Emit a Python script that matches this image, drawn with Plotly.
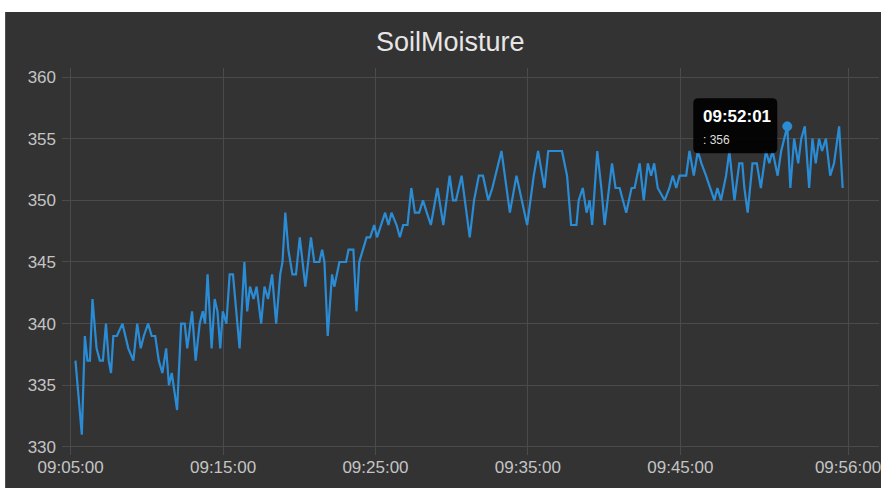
import plotly.graph_objects as go

DAY = "2024-01-01 "

times = [
    "09:05:19", "09:05:44", "09:05:56", "09:06:06", "09:06:16", "09:06:26", "09:06:42", "09:06:55",
    "09:07:07", "09:07:19", "09:07:30", "09:07:39", "09:07:48", "09:08:02", "09:08:24", "09:08:47",
    "09:09:07", "09:09:22", "09:09:36", "09:09:48", "09:10:05", "09:10:19", "09:10:33", "09:10:47",
    "09:11:01", "09:11:16", "09:11:27", "09:11:38", "09:11:59", "09:12:15", "09:12:29", "09:12:39",
    "09:12:58", "09:13:12", "09:13:28", "09:13:40", "09:13:49", "09:13:59", "09:14:15", "09:14:27",
    "09:14:38", "09:14:49", "09:14:59", "09:15:13", "09:15:26", "09:15:39", "09:16:05", "09:16:24",
    "09:16:35", "09:16:46", "09:17:00", "09:17:12", "09:17:30", "09:17:43", "09:17:57", "09:18:13",
    "09:18:29", "09:18:45", "09:18:54", "09:19:05", "09:19:17", "09:19:33", "09:19:47", "09:20:02",
    "09:20:24", "09:20:46", "09:20:59", "09:21:19", "09:21:30", "09:21:39", "09:21:52", "09:22:09",
    "09:22:18", "09:22:38", "09:23:04", "09:23:14", "09:23:33", "09:23:45", "09:23:56", "09:24:12",
    "09:24:25", "09:24:39", "09:24:55", "09:25:06", "09:25:21", "09:25:38", "09:25:51", "09:26:03",
    "09:26:23", "09:26:36", "09:26:49", "09:27:06", "09:27:21", "09:27:35", "09:27:52", "09:28:07",
    "09:28:22", "09:28:38", "09:29:04", "09:29:27", "09:29:52", "09:30:05", "09:30:17", "09:30:39",
    "09:31:11", "09:31:28", "09:31:47", "09:32:03", "09:32:24", "09:32:40", "09:33:16", "09:33:49",
    "09:34:15", "09:34:37", "09:34:57", "09:35:23", "09:35:40", "09:36:05", "09:36:20", "09:37:14",
    "09:37:34", "09:37:50", "09:38:11", "09:38:20", "09:38:36", "09:38:51", "09:39:03", "09:39:13",
    "09:39:33", "09:39:49", "09:40:02", "09:40:31", "09:40:45", "09:41:01", "09:41:27", "09:41:48",
    "09:42:00", "09:42:20", "09:42:36", "09:42:52", "09:43:05", "09:43:17", "09:43:31", "09:43:58",
    "09:44:17", "09:44:30", "09:44:44", "09:44:57", "09:45:10", "09:45:23", "09:45:36", "09:45:53",
    "09:46:09", "09:46:23", "09:46:41", "09:46:58", "09:47:14", "09:47:26", "09:47:40", "09:48:00",
    "09:48:13", "09:48:33", "09:48:52", "09:49:04", "09:49:12", "09:49:25", "09:49:44", "09:50:01",
    "09:50:17", "09:50:37", "09:50:50", "09:51:03", "09:51:23", "09:51:37", "09:52:01", "09:52:13",
    "09:52:28", "09:52:44", "09:52:56", "09:53:10", "09:53:27", "09:53:40", "09:53:53", "09:54:06",
    "09:54:18", "09:54:33", "09:54:50", "09:55:05", "09:55:25", "09:55:39",
]

moisture = [
    337, 331, 339, 337, 337, 342, 338, 337,
    337, 340, 337, 336, 339, 339, 340, 338,
    337, 340, 338, 339, 340, 339, 339, 337,
    336, 338, 335, 336, 333, 340, 340, 338,
    341, 337, 340, 341, 340, 344, 338, 342,
    341, 338, 341, 340, 344, 344, 338, 345,
    341, 343, 342, 343, 340, 343, 342, 344,
    340, 344, 345, 349, 346, 344, 344, 347,
    343, 347, 345, 345, 346, 345, 339, 344,
    343, 345, 345, 346, 346, 341, 345, 346,
    347, 347, 348, 347, 348, 349, 348, 349,
    348, 347, 348, 348, 351, 349, 349, 350,
    349, 348, 351, 348, 352, 350, 350, 352,
    347, 350, 352, 352, 350, 351, 354, 349,
    352, 350, 348, 352, 354, 351, 354, 354,
    352, 348, 348, 350, 351, 349, 350, 348,
    354, 351, 348, 353, 351, 351, 349, 351,
    351, 353, 350, 353, 352, 353, 351, 350,
    351, 352, 351, 352, 352, 352, 354, 352,
    354, 353, 352, 351, 350, 351, 350, 352,
    354, 350, 353, 353, 351, 349, 353, 353,
    351, 354, 353, 354, 352, 354, 356, 351,
    355, 353, 355, 356, 351, 355, 353, 355,
    354, 355, 352, 353, 356, 351,
]

x_tick_labels = ["09:05:00", "09:15:00", "09:25:00", "09:35:00", "09:45:00", "09:56:00"]
y_tick_values = [330, 335, 340, 345, 350, 355, 360]

title_text = "SoilMoisture"
hover_index = times.index("09:52:01")

x_vals = [DAY + t for t in times]
hover_x = x_vals[hover_index]
hover_y = moisture[hover_index]

LINE = "#2b8cd6"
BG = "#333333"
GRID = "#4b4b4b"
TICK = "#c4c4c4"
FONT = "Liberation Sans, Arial, sans-serif"

fig = go.Figure()
fig.add_trace(go.Scatter(
    x=x_vals, y=moisture, mode="lines",
    line=dict(color=LINE, width=2.2),
    hoverinfo="skip", showlegend=False,
))
fig.add_trace(go.Scatter(
    x=[hover_x], y=[hover_y], mode="markers",
    marker=dict(color=LINE, size=9, line=dict(color=LINE, width=1)),
    hoverinfo="skip", showlegend=False,
))

# tooltip box (rounded rect in pixel units anchored to the hovered point)
L, R, B, T, rr = -94, -10, -27, 28, 5
path = (f"M {L+rr},{B} L {R-rr},{B} Q {R},{B} {R},{B+rr} L {R},{T-rr} Q {R},{T} {R-rr},{T} "
        f"L {L+rr},{T} Q {L},{T} {L},{T-rr} L {L},{B+rr} Q {L},{B} {L+rr},{B} Z")
fig.add_shape(type="path", xref="x", yref="y", xsizemode="pixel", ysizemode="pixel",
              xanchor=hover_x, yanchor=hover_y, path=path,
              fillcolor="rgba(0,0,0,0.92)", line=dict(width=0), layer="above")

fig.add_annotation(x=hover_x, y=hover_y, xref="x", yref="y", showarrow=False,
                   text=f"<b>{times[hover_index]}</b>", xanchor="left", yanchor="middle",
                   xshift=-86, yshift=10, font=dict(family=FONT, size=17, color="#ffffff"))
fig.add_annotation(x=hover_x, y=hover_y, xref="x", yref="y", showarrow=False,
                   text=f": {hover_y}", xanchor="left", yanchor="middle",
                   xshift=-86, yshift=-14, font=dict(family=FONT, size=12, color="#dddddd"))

# white strips at top and left edge of the page
fig.add_shape(type="rect", xref="paper", yref="paper", x0=-0.2, x1=1.2, y0=1.1447, y1=1.3,
              fillcolor="#ffffff", line=dict(width=0), layer="above")
fig.add_shape(type="rect", xref="paper", yref="paper", x0=-0.2, x1=-0.0696, y0=-0.3, y1=1.3,
              fillcolor="#ffffff", line=dict(width=0), layer="above")

fig.update_layout(
    width=881, height=488,
    margin=dict(l=62, r=0, t=68, b=33),
    paper_bgcolor=BG, plot_bgcolor=BG,
    title=dict(text=title_text, x=0.511, xanchor="center", y=1 - 42 / 488, yanchor="middle",
               font=dict(family=FONT, size=27, color="#e6e6e6")),
    xaxis=dict(
        range=[DAY + "09:04:26", DAY + "09:58:02"],
        tickvals=[DAY + t for t in x_tick_labels], ticktext=x_tick_labels,
        showgrid=True, gridcolor=GRID, gridwidth=1, zeroline=False, showline=False,
        tickfont=dict(family=FONT, size=17, color=TICK), ticks="",
        ticklabeloverflow="allow",
    ),
    yaxis=dict(
        range=[329.35, 360.73],
        tickvals=y_tick_values,
        showgrid=True, gridcolor=GRID, gridwidth=1, zeroline=False, showline=False,
        tickfont=dict(family=FONT, size=17, color=TICK), ticks="", ticklabelstandoff=5,
    ),
)

fig.write_html("out.html", config={"displayModeBar": False},
               post_script="document.body.style.margin='0';document.body.style.padding='0';")
